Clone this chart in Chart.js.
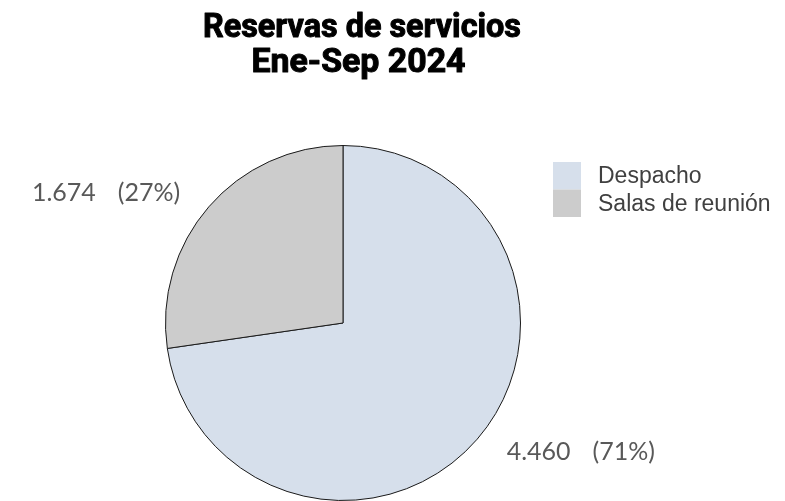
<!DOCTYPE html>
<html>
<head>
<meta charset="utf-8">
<script src="https://cdn.jsdelivr.net/npm/chart.js@4.4.1/dist/chart.umd.min.js"></script>
<style>
  html, body { margin: 0; padding: 0; background: #fff; }
  #wrap { width: 785px; height: 501px; position: relative; }
</style>
</head>
<body>
<div id="wrap"><canvas id="pie" width="785" height="501"></canvas></div>
<script>
const categories = ['Despacho', 'Salas de reunión'];
const reservas = [4460, 1674];
const porcentajes = ['71%', '27%'];
const colores = ['#d6dfeb', '#cccccc'];
const titulo = ['Reservas de servicios', 'Ene-Sep 2024'];

// label anchors, in units of the pie radius from its centre
const labelOffsets = [[1.34, 0.727], [-1.335, -0.732]];

const fmt = n => n.toLocaleString('de-DE');

// draws heavy text squeezed to a given width, centred on x
function fitText(ctx, text, x, y, width) {
  const w = ctx.measureText(text).width;
  ctx.save();
  ctx.translate(x, y);
  ctx.scale(width / w, 1);
  ctx.fillText(text, 0, 0);
  ctx.strokeText(text, 0, 0);
  ctx.restore();
}

const overlay = {
  id: 'overlay',
  afterDraw(chart) {
    const ctx = chart.ctx;
    const arcs = chart.getDatasetMeta(0).data;
    const { x: cx, y: cy, outerRadius: r } = arcs[0];

    ctx.save();
    // title, condensed bold
    ctx.fillStyle = '#000';
    ctx.strokeStyle = '#000';
    ctx.lineWidth = 1;
    ctx.lineJoin = 'round';
    ctx.textAlign = 'center';
    ctx.textBaseline = 'alphabetic';
    ctx.font = 'bold 33px Roboto, "Liberation Sans", sans-serif';
    fitText(ctx, titulo[0], 362, 37, 318);
    fitText(ctx, titulo[1], 358.5, 72, 214);

    // value labels: number, gap, percentage
    ctx.fillStyle = '#595959';
    ctx.font = '25px Lato, "Open Sans", sans-serif';
    ctx.textBaseline = 'middle';
    ctx.textAlign = 'left';
    reservas.forEach((v, i) => {
      const [ox, oy] = labelOffsets[i];
      const a = fmt(v), b = '(' + porcentajes[i] + ')';
      const gap = 22;
      const total = ctx.measureText(a).width + gap + ctx.measureText(b).width;
      const x0 = cx + ox * r - total / 2;
      const y0 = cy + oy * r;
      ctx.fillText(a, x0, y0);
      ctx.fillText(b, x0 + ctx.measureText(a).width + gap, y0);
    });

    // legend
    ctx.font = '23px "Liberation Sans", Arial, sans-serif';
    ctx.textBaseline = 'alphabetic';
    categories.forEach((c, i) => {
      const y = 162 + i * 27.5;
      ctx.fillStyle = colores[i];
      ctx.fillRect(553, y, 28, 27.5);
      ctx.fillStyle = '#404040';
      ctx.fillText(c, 598, y + 21);
    });
    ctx.restore();
  }
};

new Chart(document.getElementById('pie'), {
  type: 'pie',
  data: {
    labels: categories,
    datasets: [{
      data: reservas,
      backgroundColor: colores,
      borderColor: '#1a1a1a',
      borderWidth: 1,
      hoverOffset: 0
    }]
  },
  options: {
    responsive: false,
    animation: false,
    layout: { padding: { top: 145, bottom: 0, left: 0, right: 99 } },
    plugins: {
      legend: { display: false },
      title: { display: false },
      tooltip: { enabled: false }
    }
  },
  plugins: [overlay]
});
</script>
</body>
</html>
